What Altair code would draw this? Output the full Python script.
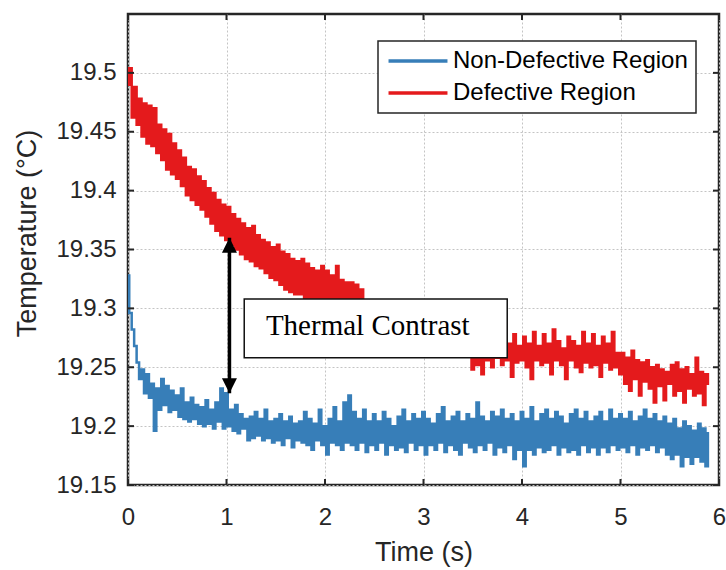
import altair as alt
import pandas as pd

# ---------------- data ----------------
SERIES = ["Non-Defective Region", "Defective Region"]
COLORS = ["#377eb8", "#e41a1c"]
SAMPLE_STEP = 0.025  # s between samples

DEFECTIVE = [
    19.490, 19.504, 19.462, 19.488, 19.456, 19.478, 19.446, 19.474, 19.440, 19.472,
    19.438, 19.470, 19.432, 19.456, 19.426, 19.452, 19.418, 19.448, 19.414, 19.440,
    19.410, 19.434, 19.404, 19.428, 19.396, 19.420, 19.392, 19.418, 19.388, 19.412,
    19.384, 19.408, 19.378, 19.402, 19.372, 19.398, 19.366, 19.392, 19.362, 19.388,
    19.358, 19.386, 19.354, 19.380, 19.350, 19.376, 19.346, 19.372, 19.342, 19.368,
    19.340, 19.370, 19.336, 19.362, 19.334, 19.358, 19.330, 19.356, 19.326, 19.352,
    19.324, 19.354, 19.320, 19.348, 19.316, 19.346, 19.314, 19.342, 19.312, 19.340,
    19.312, 19.342, 19.308, 19.338, 19.306, 19.334, 19.304, 19.332, 19.308, 19.336,
    19.304, 19.332, 19.302, 19.328, 19.300, 19.336, 19.298, 19.324, 19.300, 19.322,
    19.298, 19.322, 19.296, 19.320, 19.294, 19.316, 19.292, 19.306, 19.290, 19.300,
    19.286, 19.298, 19.284, 19.296, 19.282, 19.294, 19.280, 19.292, 19.278, 19.290,
    19.278, 19.290, 19.276, 19.288, 19.274, 19.286, 19.272, 19.284, 19.270, 19.282,
    19.270, 19.282, 19.268, 19.280, 19.266, 19.278, 19.266, 19.276, 19.264, 19.276,
    19.264, 19.276, 19.262, 19.274, 19.262, 19.272, 19.262, 19.270, 19.262, 19.272,
    19.248, 19.270, 19.252, 19.266, 19.244, 19.272, 19.256, 19.268, 19.250, 19.266,
    19.258, 19.274, 19.252, 19.284, 19.256, 19.270, 19.242, 19.278, 19.254, 19.268,
    19.256, 19.276, 19.250, 19.270, 19.240, 19.280, 19.256, 19.268, 19.252, 19.278,
    19.254, 19.270, 19.244, 19.282, 19.256, 19.272, 19.252, 19.266, 19.240, 19.276,
    19.256, 19.272, 19.250, 19.268, 19.246, 19.280, 19.254, 19.270, 19.250, 19.278,
    19.252, 19.268, 19.242, 19.276, 19.254, 19.270, 19.248, 19.280, 19.250, 19.262,
    19.244, 19.262, 19.236, 19.258, 19.230, 19.264, 19.240, 19.256, 19.226, 19.254,
    19.238, 19.256, 19.232, 19.250, 19.220, 19.252, 19.234, 19.248, 19.222, 19.246,
    19.236, 19.252, 19.226, 19.254, 19.230, 19.248, 19.220, 19.250, 19.232, 19.244,
    19.226, 19.258, 19.228, 19.246, 19.218, 19.244, 19.236,
]

NON_DEFECTIVE = [
    19.328, 19.296, 19.282, 19.268, 19.254, 19.240, 19.248, 19.228, 19.244, 19.224,
    19.236, 19.196, 19.232, 19.214, 19.240, 19.218, 19.234, 19.212, 19.230, 19.214,
    19.226, 19.208, 19.232, 19.206, 19.220, 19.204, 19.224, 19.206, 19.218, 19.202,
    19.216, 19.200, 19.222, 19.202, 19.214, 19.198, 19.220, 19.204, 19.232, 19.198,
    19.228, 19.200, 19.214, 19.196, 19.218, 19.194, 19.210, 19.198, 19.206, 19.188,
    19.208, 19.190, 19.212, 19.192, 19.206, 19.188, 19.214, 19.190, 19.204, 19.186,
    19.206, 19.188, 19.210, 19.184, 19.204, 19.190, 19.208, 19.182, 19.202, 19.188,
    19.204, 19.186, 19.212, 19.184, 19.206, 19.180, 19.202, 19.188, 19.214, 19.184,
    19.200, 19.176, 19.206, 19.186, 19.216, 19.184, 19.204, 19.180, 19.220, 19.186,
    19.226, 19.184, 19.212, 19.180, 19.206, 19.186, 19.214, 19.178, 19.204, 19.184,
    19.210, 19.180, 19.204, 19.186, 19.212, 19.176, 19.206, 19.184, 19.200, 19.180,
    19.208, 19.182, 19.214, 19.178, 19.204, 19.186, 19.210, 19.180, 19.206, 19.184,
    19.212, 19.176, 19.206, 19.184, 19.202, 19.180, 19.210, 19.186, 19.216, 19.178,
    19.204, 19.184, 19.208, 19.180, 19.212, 19.176, 19.204, 19.186, 19.210, 19.182,
    19.206, 19.178, 19.220, 19.184, 19.208, 19.180, 19.204, 19.186, 19.212, 19.176,
    19.208, 19.182, 19.214, 19.178, 19.206, 19.184, 19.210, 19.172, 19.204, 19.180,
    19.212, 19.166, 19.206, 19.180, 19.216, 19.176, 19.204, 19.182, 19.210, 19.178,
    19.214, 19.180, 19.206, 19.184, 19.212, 19.176, 19.208, 19.182, 19.202, 19.178,
    19.210, 19.180, 19.214, 19.176, 19.206, 19.184, 19.212, 19.178, 19.204, 19.182,
    19.208, 19.176, 19.212, 19.182, 19.204, 19.178, 19.214, 19.184, 19.206, 19.180,
    19.210, 19.182, 19.206, 19.178, 19.212, 19.184, 19.204, 19.176, 19.208, 19.182,
    19.214, 19.180, 19.206, 19.184, 19.210, 19.178, 19.204, 19.182, 19.208, 19.176,
    19.202, 19.172, 19.206, 19.176, 19.198, 19.166, 19.204, 19.174, 19.200, 19.168,
    19.196, 19.174, 19.202, 19.170, 19.198, 19.166, 19.194,
]

X_TICKS = [0, 1, 2, 3, 4, 5, 6]
Y_TICKS = [19.15, 19.2, 19.25, 19.3, 19.35, 19.4, 19.45, 19.5]
X_DOMAIN = [0, 6]
Y_DOMAIN = [19.15, 19.55]

# annotation (data units)
BOX_X = [1.18, 3.85]
BOX_Y = [19.258, 19.308]
LABEL_TEXT = "Thermal Contrast"
LABEL_POS = [1.40, 19.2775]
ARROW_X = 1.03
ARROW_Y = [19.228, 19.360]

# ---------------- tables ----------------
times = [round(i * SAMPLE_STEP, 3) for i in range(len(DEFECTIVE))]
lines_df = pd.DataFrame(
    {"t": times + times,
     "temp": NON_DEFECTIVE + DEFECTIVE,
     "series": [SERIES[0]] * len(times) + [SERIES[1]] * len(times)}
)
box_df = pd.DataFrame({"x": [BOX_X[0]], "x2": [BOX_X[1]], "y": [BOX_Y[0]], "y2": [BOX_Y[1]]})
text_df = pd.DataFrame({"x": [LABEL_POS[0]], "y": [LABEL_POS[1]], "label": [LABEL_TEXT]})
arrow_df = pd.DataFrame({"x": [ARROW_X], "y": [ARROW_Y[0]], "y2": [ARROW_Y[1]]})
head_up_df = pd.DataFrame({"x": [ARROW_X], "y": [ARROW_Y[1]]})
head_dn_df = pd.DataFrame({"x": [ARROW_X], "y": [ARROW_Y[0]]})
tick_bottom = pd.DataFrame({"x": X_TICKS, "y": [Y_DOMAIN[0]] * len(X_TICKS)})
tick_top = pd.DataFrame({"x": X_TICKS, "y": [Y_DOMAIN[1]] * len(X_TICKS)})
tick_left = pd.DataFrame({"x": [X_DOMAIN[0]] * len(Y_TICKS), "y": Y_TICKS})
tick_right = pd.DataFrame({"x": [X_DOMAIN[1]] * len(Y_TICKS), "y": Y_TICKS})

FONT = "Liberation Sans"
XS = alt.Scale(domain=X_DOMAIN, nice=False, zero=False)
YS = alt.Scale(domain=Y_DOMAIN, nice=False, zero=False)
XAX = alt.Axis(values=X_TICKS, format="d", grid=True, ticks=False, domain=False,
               labelFlush=False, labelPadding=20, titlePadding=10)
YAX = alt.Axis(values=Y_TICKS, format="~g", grid=True, ticks=False, domain=False,
               labelFlush=False, labelPadding=12, titlePadding=14, titleY=219)


def xe(f):
    return alt.X(f, type="quantitative", scale=XS, axis=XAX, title="Time (s)")


def ye(f):
    return alt.Y(f, type="quantitative", scale=YS, axis=YAX, title="Temperature (°C)")


lines = alt.Chart(lines_df).mark_line(strokeWidth=2.5, interpolate="step").encode(
    x=xe("t"),
    y=ye("temp"),
    color=alt.Color(
        "series:N",
        scale=alt.Scale(domain=SERIES, range=COLORS),
        sort=SERIES,
        legend=alt.Legend(
            orient="none", legendX=250, legendY=27, title=None,
            symbolType="M-5,0L5,0", symbolSize=139, symbolStrokeWidth=3.5,
            symbolOffset=20, labelOffset=23, labelLimit=400,
            labelFont=FONT, labelFontSize=24, labelColor="#000000",
            rowPadding=8, padding=8, strokeColor="#262626", fillColor="white",
        ),
    ),
)

box = alt.Chart(box_df).mark_rect(fill="white", stroke="#111111", strokeWidth=1.5).encode(
    x=xe("x"), x2="x2", y=ye("y"), y2="y2"
)
label = alt.Chart(text_df).mark_text(
    font="Liberation Serif", fontSize=29, align="left", baseline="alphabetic", color="#000000"
).encode(x=xe("x"), y=ye("y"), text="label:N")

shaft = alt.Chart(arrow_df).mark_rule(strokeWidth=3.5, color="#000000").encode(
    x=xe("x"), y=ye("y"), y2="y2"
)
head_up = alt.Chart(head_up_df).mark_point(
    shape="M0,0L-1,2L1,2Z", size=225, filled=True, color="#000000", opacity=1
).encode(x=xe("x"), y=ye("y"))
head_dn = alt.Chart(head_dn_df).mark_point(
    shape="M0,0L-1,-2L1,-2Z", size=225, filled=True, color="#000000", opacity=1
).encode(x=xe("x"), y=ye("y"))


def ticks(df, path):
    return alt.Chart(df).mark_point(
        shape=path, size=144, filled=False, color="#262626", strokeWidth=2, opacity=1
    ).encode(x=xe("x"), y=ye("y"))


chart = alt.layer(
    lines, box, label, shaft, head_up, head_dn,
    ticks(tick_bottom, "M0,0L0,-1"),
    ticks(tick_top, "M0,0L0,1"),
    ticks(tick_left, "M0,0L1,0"),
    ticks(tick_right, "M0,0L-1,0"),
).properties(
    width=591, height=471,
    autosize=alt.AutoSizeParams(type="none"),
    padding={"left": 128, "top": 14, "right": 7, "bottom": 85},
    background="white",
).configure_view(
    stroke="#262626", strokeWidth=2.5
).configure_axis(
    labelFont=FONT, labelFontSize=24, labelColor="#262626",
    titleFont=FONT, titleFontSize=27, titleColor="#262626", titleFontWeight="normal",
    gridColor="#c4c4c4", gridDash=[2, 2], gridWidth=1,
).configure_legend(
    strokeWidth=1.5
)

chart.save("out.html", embed_options={"renderer": "svg", "actions": False})
